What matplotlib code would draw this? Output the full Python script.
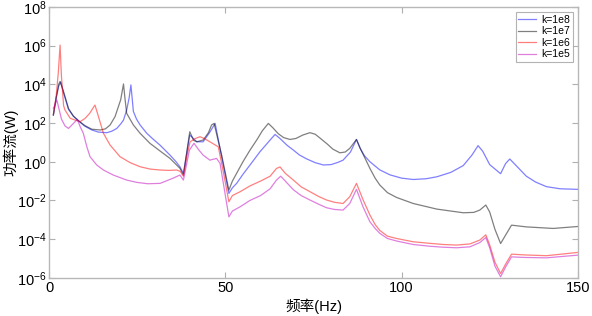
import numpy as np
import matplotlib
matplotlib.use("Agg")
import matplotlib.pyplot as plt

plt.rcParams['font.family'] = ['Liberation Sans', 'Noto Sans CJK SC', 'DejaVu Sans']
plt.rcParams['axes.unicode_minus'] = False

# values: frequency (Hz) and log10 of power flow (W)
f_k8 = [1.2, 2.0, 2.7, 3.3, 4.1, 5.5, 6.9, 8.3, 10, 12.1, 14, 16.4, 17.8, 19.2, 20.3, 21.1, 22, 22.7, 23.2, 23.6,
        23.9, 24.8, 25.8, 27.7, 29.6, 31.5, 34.3, 36, 37.1, 38.1, 39.9, 41.9, 43.7, 45.5, 47.1, 49, 51.0, 52,
        53.2, 55, 57, 59.8, 62.7, 64.1, 65.5, 67.5, 69.3, 71, 73, 75.5, 77.8, 80, 82, 83.4, 85.5, 87.2, 88.2,
        89.5, 91, 93.8, 96.7, 100, 103.3, 107, 110, 114, 117.5, 120, 121.7, 123, 125, 128.1, 129.5, 130.7,
        132.5, 135.4, 138, 141.1, 145, 150]
p_k8 = [2.41, 3.3, 3.9, 4.12, 3.55, 2.7, 2.35, 2.12, 1.85, 1.64, 1.53, 1.5, 1.58, 1.72, 1.95, 2.15, 2.67, 3.3, 3.97, 3.2,
        2.6, 2.2, 1.9, 1.47, 1.15, 0.85, 0.34, 0.0, -0.26, -0.6, 1.38, 1.03, 1.03, 1.5, 1.98, 0.2, -1.64, -1.35,
        -1.12, -0.65, -0.17, 0.51, 1.12, 1.41, 1.2, 0.85, 0.6, 0.35, 0.15, -0.05, -0.17, -0.15, -0.03, 0.08, 0.5, 1.15, 0.7,
        0.3, 0.0, -0.42, -0.68, -0.85, -0.92, -0.88, -0.78, -0.55, -0.2, 0.35, 0.83, 0.55, -0.15, -0.62, -0.1, 0.14,
        -0.2, -0.75, -1.05, -1.29, -1.4, -1.43]

f_k7 = [1.2, 2.0, 2.7, 3.1, 4.1, 5.5, 6.9, 8.3, 10.2, 12.1, 14.5, 16, 17.3, 18.7, 20.3, 21.1, 21.5, 22, 23.9, 25.8,
        28.6, 31.5, 34.3, 37.1, 38.1, 39.9, 41.0, 41.9, 43.7, 45.2, 46.1, 46.8, 49, 51.0, 52, 53.2, 55, 57, 59,
        60.5, 62.2, 63.5, 65, 66.5, 68.3, 70, 72, 74, 75.5, 77, 79, 80.5, 82.5, 84, 85.3, 87.2, 88.5, 90.1, 91,
        92.5, 93.8, 96, 98.6, 103.3, 110, 117.5, 120.5, 122.2, 123.9, 125, 126.5, 128.1, 129.5, 131.2, 135.4,
        143, 150]
p_k7 = [2.41, 3.3, 4.0, 4.15, 3.62, 2.75, 2.35, 2.12, 1.86, 1.68, 1.64, 1.7, 1.9, 2.33, 3.2, 4.02, 3.3, 2.5, 1.9, 1.47,
        0.95, 0.55, 0.17, -0.34, -0.69, 1.55, 1.1, 1.03, 1.12, 1.5, 1.9, 1.98, 0.3, -1.47, -1.0, -0.6, 0.0, 0.6, 1.15,
        1.6, 1.98, 1.75, 1.45, 1.25, 1.15, 1.2, 1.38, 1.5, 1.42, 1.2, 0.9, 0.65, 0.46, 0.5, 0.69, 1.15, 0.6, 0.0, -0.34,
        -0.85, -1.2, -1.6, -1.85, -2.16, -2.45, -2.64, -2.62, -2.5, -2.24, -2.6, -3.5, -4.23, -3.8, -3.28, -3.37,
        -3.45, -3.35]

f_k6 = [1.2, 2.0, 2.6, 3.1, 3.5, 4.1, 4.5, 6.0, 7.4, 8.8, 10.2, 11.5, 13.0, 14.0, 15.4, 17.3, 20.1, 23, 25.8, 28.6,
        31.5, 34, 36.2, 37.2, 38.1, 39.2, 40.0, 41.5, 42.8, 44, 45.6, 48.0, 49.5, 51.0, 52, 54.2, 57, 60, 62.7,
        64.5, 65.5, 67, 69.3, 71.5, 74, 76.5, 78.7, 81, 83.4, 85.3, 87.2, 89.1, 91, 92.5, 93.8, 96, 98.6, 103.3,
        108, 111.8, 115.6, 119.4, 122.2, 123.9, 125, 126.5, 128.1, 129.5, 131.2, 135, 141.1, 150]
p_k6 = [2.45, 3.4, 4.6, 6.03, 4.4, 2.9, 2.67, 2.24, 2.15, 2.07, 2.24, 2.5, 2.93, 2.33, 1.47, 0.86, 0.26, -0.05, -0.26, -0.38,
        -0.43, -0.45, -0.43, -0.5, -0.75, 0.4, 1.03, 1.2, 1.29, 1.2, 1.03, 0.77, -0.6, -2.07, -1.75, -1.55, -1.25, -1.0, -0.75,
        -0.35, -0.27, -0.6, -0.95, -1.3, -1.55, -1.8, -1.98, -2.1, -2.16, -1.81, -1.12, -1.98, -2.75, -3.25, -3.55, -3.85, -3.97, -4.14,
        -4.22, -4.28, -4.31, -4.25, -4.05, -3.78, -4.3, -5.2, -5.78, -5.3, -4.78, -4.82, -4.86, -4.69]

f_k5 = [1.2, 1.7, 2.2, 2.7, 3.5, 4.5, 5.5, 6.9, 8.0, 8.8, 9.7, 10.7, 11.6, 13.5, 15.4, 18.2, 22, 24.9, 28, 31.5,
        35.2, 37.1, 38.1, 39.8, 41.1, 42.5, 43.7, 45.6, 47.5, 48.5, 51.0, 52, 54.2, 57, 60, 62.7, 64.5, 65.7,
        67, 69.3, 71.5, 74, 76.5, 78.7, 81, 83.4, 85.3, 87.2, 89.1, 91, 92.5, 93.8, 96, 98.6, 103.3, 108, 111.8,
        115.6, 119.4, 122.2, 123.9, 125, 126.5, 128.1, 129.5, 131.2, 135, 141.1, 150]
p_k5 = [2.77, 2.95, 3.19, 2.8, 2.2, 1.85, 1.72, 1.98, 2.19, 1.81, 1.47, 0.77, 0.26, -0.17, -0.43, -0.69, -0.95, -1.07, -1.14, -1.12,
        -0.85, -0.69, -0.95, 0.6, 0.95, 0.6, 0.34, 0.08, 0.17, -0.09, -2.85, -2.55, -2.33, -2.0, -1.75, -1.4, -0.95, -0.75,
        -1.0, -1.45, -1.75, -1.98, -2.2, -2.38, -2.47, -2.5, -2.16, -1.43, -2.35, -3.1, -3.45, -3.7, -3.97, -4.1, -4.28, -4.37, -4.42,
        -4.45, -4.4, -4.18, -3.92, -4.45, -5.4, -5.95, -5.45, -4.92, -4.95, -4.97, -4.83]

labels = ['k=1e8', 'k=1e7', 'k=1e6', 'k=1e5']
colors = ['b', 'k', 'r', 'm']

fig = plt.figure(figsize=(5.92, 3.16), dpi=100)
ax = fig.add_axes([0.083, 0.121, 0.893, 0.857])

for f, p, lab, c in zip([f_k8, f_k7, f_k6, f_k5], [p_k8, p_k7, p_k6, p_k5], labels, colors):
    ax.plot(f, 10.0 ** np.array(p), color=c, alpha=0.5, lw=0.9, label=lab)

ax.set_yscale('log')
ax.set_xlim(0, 150)
ax.set_ylim(1e-6, 1e8)
ax.set_xticks([0, 50, 100, 150])
ax.set_yticks([10.0 ** e for e in range(-6, 9, 2)])
ax.minorticks_off()
ax.tick_params(direction='in', top=True, right=True, length=4, width=0.8,
               color='#b0b0b0', labelsize=10.5, pad=2)
for s in ax.spines.values():
    s.set_color('#b8b8b8')
    s.set_linewidth(1.0)

ax.set_xlabel('频率(Hz)', fontsize=10.5, labelpad=3)
ax.set_ylabel('功率流(W)', fontsize=10.5, va='center')
ax.yaxis.set_label_coords(-0.072, 0.5)

leg = ax.legend(loc='upper right', fontsize=7.5, fancybox=False, handlelength=1.7,
                borderpad=0.25, labelspacing=0.15, handletextpad=0.5, borderaxespad=0.5)
leg.get_frame().set_edgecolor('#a0a0a0')
leg.get_frame().set_linewidth(0.8)

fig.savefig('out.png', dpi=100)
